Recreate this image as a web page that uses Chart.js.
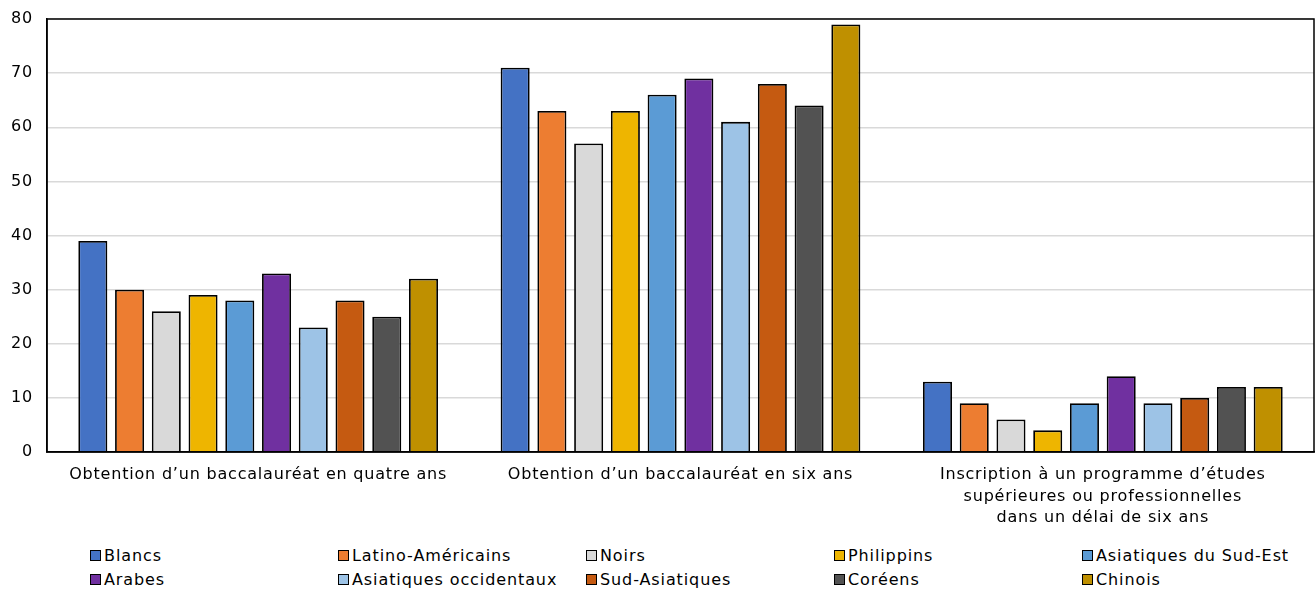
<!DOCTYPE html>
<html>
<head>
<meta charset="utf-8">
<script src="https://cdn.jsdelivr.net/npm/chart.js@4"></script>
<style>
  body { margin: 0; background: #fff; }
  #wrap { position: relative; width: 1315px; height: 589px; }
  #box { position: absolute; left: 0; top: 0; width: 1315px; height: 532px; }
  #legend { position: absolute; left: 90px; top: 546px; width: 1240px;
    display: grid; grid-template-columns: repeat(5, 248px); row-gap: 5px;
    font: 16px "DejaVu Sans", sans-serif; letter-spacing: 0.9px; color: #000; }
  #legend span.item { display: flex; align-items: center; white-space: nowrap; line-height: 19px; }
  #legend i { display: inline-block; width: 11px; height: 11px; border: 1.3px solid #000;
    margin-right: 3px; box-sizing: border-box; }
</style>
</head>
<body>
<div id="wrap">
  <div id="box"><canvas id="chart"></canvas></div>
  <div id="legend"></div>
</div>
<script>
// Categories and series
var categories = [
	'Obtention d\u2019un baccalauréat en quatre ans',
	'Obtention d\u2019un baccalauréat en six ans',
	['Inscription à un programme d\u2019études', 'supérieures ou professionnelles', 'dans un délai de six ans']
];

var seriesNames = ['Blancs', 'Latino-Américains', 'Noirs', 'Philippins', 'Asiatiques du Sud-Est',
	'Arabes', 'Asiatiques occidentaux', 'Sud-Asiatiques', 'Coréens', 'Chinois'];

var blancs = [39, 71, 13];
var latino = [30, 63, 9];
var noirs = [26, 57, 6];
var philippins = [29, 63, 4];
var sudEst = [28, 66, 9];
var arabes = [33, 69, 14];
var occidentaux = [23, 61, 9];
var sudAsiatiques = [28, 68, 10];
var coreens = [25, 64, 12];
var chinois = [32, 79, 12];

var yTicks = [0, 10, 20, 30, 40, 50, 60, 70, 80];

var colors = ['#4472c4', '#ed7d31', '#d9d9d9', '#eeb500', '#5b9bd5',
	'#7030a0', '#9dc3e6', '#c55a11', '#525252', '#bf9000'];

var values = [blancs, latino, noirs, philippins, sudEst, arabes, occidentaux, sudAsiatiques, coreens, chinois];

var datasets = values.map(function (v, i) {
	return {
		label: seriesNames[i],
		data: v,
		backgroundColor: colors[i],
		borderColor: '#000',
		borderWidth: 1.8,
		categoryPercentage: 0.87,
		barPercentage: 0.79
	};
});

// wider text, closer to the original font
function spacing(chart) { chart.ctx.letterSpacing = '0.8px'; }
var wideText = {
	id: 'wideText',
	beforeUpdate: spacing,
	beforeLayout: spacing,
	beforeDraw: spacing
};

// frame around the plot area
var frame = {
	id: 'frame',
	afterDraw: function (chart) {
		var a = chart.chartArea, ctx = chart.ctx;
		ctx.save();
		ctx.strokeStyle = '#000';
		ctx.lineWidth = 1.5;
		ctx.strokeRect(a.left, a.top, a.right - a.left, a.bottom - a.top);
		ctx.restore();
	}
};

Chart.defaults.font.family = '"DejaVu Sans", sans-serif';
Chart.defaults.color = '#000';

new Chart(document.getElementById('chart'), {
	type: 'bar',
	data: { labels: categories, datasets: datasets },
	options: {
		responsive: true,
		maintainAspectRatio: false,
		animation: false,
		layout: { padding: { top: 19, right: 1, left: 0, bottom: 0 } },
		plugins: { legend: { display: false }, tooltip: { enabled: false } },
		scales: {
			x: {
				grid: { display: false, drawTicks: false },
				border: { display: true, color: '#000', width: 1.5 },
				ticks: { font: { size: 16, lineHeight: 1.35 }, padding: 12, maxRotation: 0, autoSkip: false },
				afterFit: function (s) { s.height = 80; }
			},
			y: {
				min: 0,
				max: 80,
				afterBuildTicks: function (s) { s.ticks = yTicks.map(function (v) { return { value: v }; }); },
				grid: { color: '#d9d9d9', lineWidth: 1.5, drawTicks: false },
				border: { display: true, color: '#000', width: 1.5 },
				ticks: { font: { size: 16 }, padding: 14 },
				afterFit: function (s) { s.width = 47; s.paddingTop = 0; s.paddingBottom = 0; }
			}
		}
	},
	plugins: [wideText, frame]
});

// legend in a fixed grid
var legend = document.getElementById('legend');
seriesNames.forEach(function (n, i) {
	var s = document.createElement('span');
	s.className = 'item';
	s.innerHTML = '<i style="background:' + colors[i] + '"></i>' + n;
	legend.appendChild(s);
});
</script>
</body>
</html>
